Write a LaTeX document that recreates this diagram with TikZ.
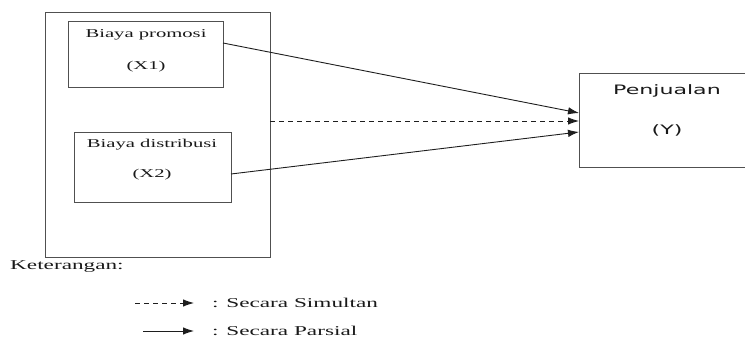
\documentclass[tikz,border=0pt]{standalone}
\usepackage{fontspec}
\setmainfont{Liberation Serif}[FakeStretch=1.72]
\newfontfamily\labsans{DejaVu Sans}[FakeStretch=1.7]
\usetikzlibrary{arrows.meta,calc}
\definecolor{linegray}{HTML}{1E1E1E}
\definecolor{boxgray}{HTML}{505050}
\tikzset{
  boxnode/.style={draw=boxgray,line width=0.9pt,inner sep=0pt,outer sep=0pt,anchor=north west},
  lab/.style={inner sep=0pt,text=black!90,font=\fontsize{12}{14}\selectfont},
  ylab/.style={inner sep=0pt,text=black!90,font=\labsans\fontsize{13}{15}\selectfont},
  legtext/.style={inner sep=0pt,anchor=west,text=black!90,font=\fontsize{13.5}{16}\selectfont},
  conn/.style={draw=linegray,line width=0.9pt,-{Latex[length=11pt,width=7.5pt]}},
  dconn/.style={conn,dash pattern=on 5pt off 4pt},
}
\begin{document}
\begin{tikzpicture}[x=1pt,y=-1pt]
\useasboundingbox (0,0) rectangle (745,347);
% boxes
\node[boxnode,minimum width=225pt,minimum height=245pt] (outer) at (45,12) {};
\node[boxnode,minimum width=155pt,minimum height=66pt] (x1) at (68,21) {};
\node[boxnode,minimum width=157pt,minimum height=70pt] (x2) at (74,132) {};
\node[boxnode,minimum width=166pt,minimum height=94pt] (y) at (579,73) {};
% labels
\node[lab] (x1a) at (146,35) {Biaya promosi};
\node[lab] (x1b) at (146,67) {(X1)};
\node[lab] (x2a) at (152,145) {Biaya distribusi};
\node[lab] (x2b) at (152,175) {(X2)};
\node[ylab] (ya) at (667,91) {Penjualan};
\node[ylab] (yb) at (667,130) {(Y)};
% connectors
\draw[conn] ([yshift=11pt]x1.east) -- ([yshift=7pt]y.west);
\draw[dconn] ([yshift=13.5pt]outer.east) -- ([yshift=-1pt]y.west);
\draw[conn] ([yshift=-7pt]x2.east) -- ([yshift=-12pt]y.west);
% legend
\node[legtext] (ket) at (10,267) {Keterangan:};
\coordinate (d1) at (135,303);
\coordinate (d2) at (194,303);
\coordinate (s1) at (143,331);
\coordinate (s2) at (194,331);
\draw[dconn] (d1) -- (d2);
\draw[conn] (s1) -- (s2);
\node[legtext] (leg1) at (212,303) {: Secara Simultan};
\node[legtext] (leg2) at (212,331) {: Secara Parsial};
\end{tikzpicture}
\end{document}
